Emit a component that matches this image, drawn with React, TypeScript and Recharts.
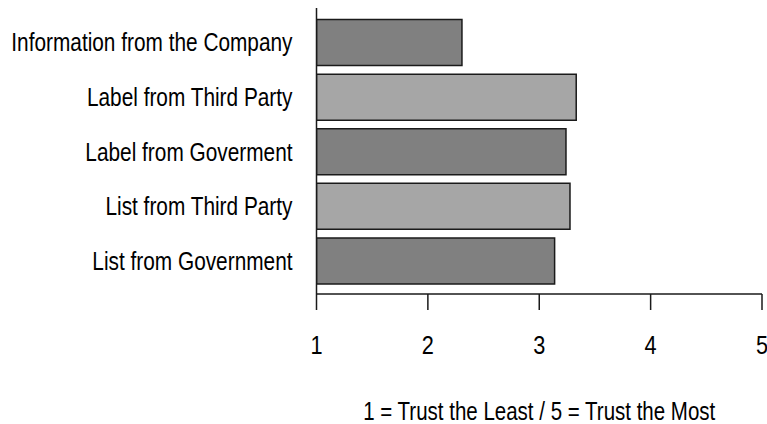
import React from "react";
import { BarChart, Bar, XAxis, YAxis, Cell, Label } from "recharts";

const categories = [
  "Information from the Company",
  "Label from Third Party",
  "Label from Goverment",
  "List from Third Party",
  "List from Government",
];
const scores = [2.306, 3.332, 3.24, 3.276, 3.138];
const barColors = ["#808080", "#a6a6a6", "#808080", "#a6a6a6", "#808080"];
const xTicks = [1, 2, 3, 4, 5];
const xTitle = "1 = Trust the Least / 5 = Trust the Most";

const data = categories.map((name, i) => ({ name, score: scores[i] }));

const FONT = "'Liberation Sans', Arial, sans-serif";
const NARROW = 0.82;

const YTick = (props: any) => {
  const { x, y, payload } = props;
  return (
    <g transform={`translate(${x},${y}) scale(${NARROW},1)`}>
      <text
        x={0}
        y={0}
        dy="0.358em"
        textAnchor="end"
        fill="#000"
        fontSize={25.4}
        fontFamily={FONT}
      >
        {payload.value}
      </text>
    </g>
  );
};

const XTick = (props: any) => {
  const { x, y, payload } = props;
  return (
    <g transform={`translate(${x},${y}) scale(${NARROW},1)`}>
      <text
        x={0}
        y={44}
        textAnchor="middle"
        fill="#000"
        fontSize={26.5}
        fontFamily={FONT}
      >
        {payload.value}
      </text>
    </g>
  );
};

const XTitle = (props: any) => {
  const vb = props.viewBox || {};
  const cx = vb.x + vb.width / 2;
  return (
    <g transform={`translate(${cx},419.5) scale(${NARROW},1)`}>
      <text
        x={0}
        y={0}
        textAnchor="middle"
        fill="#000"
        fontSize={25}
        fontFamily={FONT}
      >
        {xTitle}
      </text>
    </g>
  );
};

export default function App() {
  return (
    <div style={{ position: "absolute", left: 0, top: 0, background: "#fff" }}>
      <BarChart
        width={767}
        height={424}
        data={data}
        layout="vertical"
        margin={{ top: 8, right: 5, left: 0, bottom: 0 }}
        barCategoryGap="8.3%"
      >
        <XAxis
          type="number"
          domain={[1, 5]}
          ticks={xTicks}
          allowDataOverflow
          height={130}
          axisLine={{ stroke: "#1a1a1a", strokeWidth: 1.5 }}
          tickLine={{ stroke: "#1a1a1a", strokeWidth: 1.5 }}
          tickSize={16}
          tickMargin={0}
          tick={<XTick />}
        >
          <Label content={<XTitle />} position="insideTop" />
        </XAxis>
        <YAxis
          type="category"
          dataKey="name"
          width={316.5}
          padding={{ top: 7, bottom: 6 }}
          axisLine={{ stroke: "#1a1a1a", strokeWidth: 1.5 }}
          tickLine={false}
          tickMargin={18}
          tick={<YTick />}
        />
        <Bar
          dataKey="score"
          isAnimationActive={false}
          stroke="#1a1a1a"
          strokeWidth={1.5}
        >
          {data.map((d, i) => (
            <Cell key={d.name} fill={barColors[i]} />
          ))}
        </Bar>
      </BarChart>
    </div>
  );
}
